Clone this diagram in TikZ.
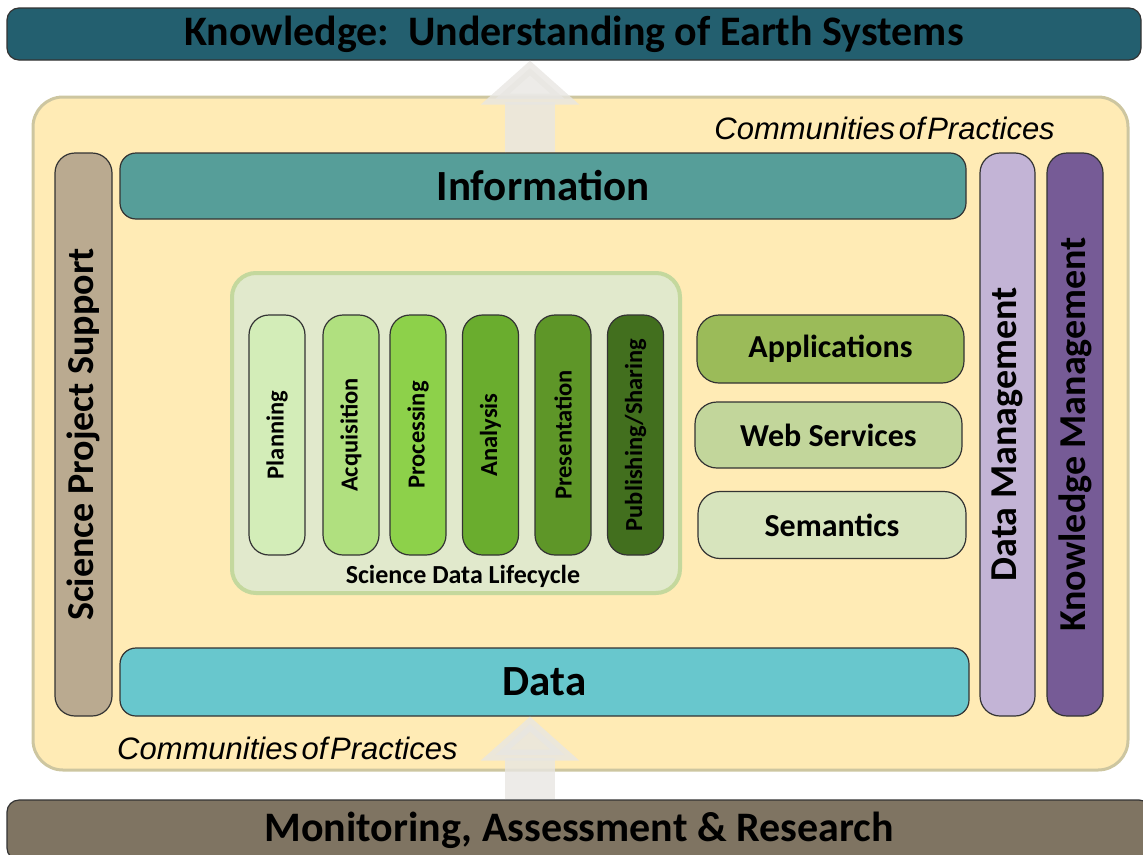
\documentclass[tikz,border=0pt]{standalone}
\usepackage{fontspec}
\setmainfont{Carlito}
\newfontfamily\copfont{Liberation Sans}
\usetikzlibrary{positioning}
\usetikzlibrary{arrows.meta}

\definecolor{knowteal}{RGB}{35,95,111}
\definecolor{monbrown}{RGB}{127,116,98}
\definecolor{copyellow}{RGB}{255,235,181}
\definecolor{copedge}{RGB}{205,198,160}
\definecolor{infoteal}{RGB}{86,158,153}
\definecolor{datacyan}{RGB}{104,199,205}
\definecolor{spstan}{RGB}{186,170,144}
\definecolor{dmlilac}{RGB}{195,180,214}
\definecolor{kmpurple}{RGB}{118,91,150}
\definecolor{sdlfill}{RGB}{225,233,204}
\definecolor{sdledge}{RGB}{196,216,157}
\definecolor{planA}{RGB}{211,237,184}
\definecolor{acqB}{RGB}{176,224,127}
\definecolor{procC}{RGB}{141,209,74}
\definecolor{anaD}{RGB}{106,173,46}
\definecolor{presE}{RGB}{94,150,40}
\definecolor{pubF}{RGB}{66,111,30}
\definecolor{appgreen}{RGB}{155,187,89}
\definecolor{webgreen}{RGB}{194,214,155}
\definecolor{semgreen}{RGB}{215,228,189}
\definecolor{arrowgrey}{RGB}{232,230,226}

\tikzset{
	box/.style={draw=black!80, line width=1.2pt, inner sep=0pt, align=center},
	band/.style={box, rounded corners=12pt, minimum height=52pt, font=\bfseries\fontsize{42}{44}\selectfont},
	layer/.style={box, rounded corners=16pt, font=\bfseries\fontsize{43}{46}\selectfont},
	pillar/.style={box, rounded corners=20pt, rotate=90, minimum width=563pt, font=\bfseries\fontsize{38}{40}\selectfont},
	phasebox/.style={box, rounded corners=20pt, rotate=90, minimum width=240pt, minimum height=56pt, font=\bfseries\fontsize{24.5}{26}\selectfont},
	service/.style={box, rounded corners=22pt, font=\bfseries\fontsize{32}{34}\selectfont},
	cop/.style={inner sep=0pt, font=\copfont\itshape\fontsize{31}{33}\selectfont},
	bigarrow/.style={draw=arrowgrey, line width=50pt, opacity=0.8, -{Triangle[length=44pt,width=96pt]}}
}

%one step of the lifecycle: name, centre x, colour, text
\newcommand{\phase}[4]{
	\node[phasebox, fill=#3] (#1) at (#2,435) {#4};
}

\begin{document}
\begin{tikzpicture}[x=1pt,y=-1pt]
	\useasboundingbox (0,0) rectangle (1143,854);
	\clip (0,0) rectangle (1143,854);

	%top and bottom bands
	\node[band, fill=knowteal, minimum width=1134pt] (know) at (574,34) {Knowledge:\ \ Understanding of Earth Systems};
	\node[band, fill=monbrown, minimum width=1144pt, minimum height=60pt] (monitor) at (579,830) {Monitoring, Assessment \& Research};

	%the big yellow frame
	\node[draw=copedge, fill=copyellow, line width=3pt, rounded corners=30pt, minimum width=1095pt, minimum height=673pt, inner sep=0pt] (frame) at (580.5,433.5) {};
	\node[cop, anchor=east] (coptop) at (1055,128) {Communities\hspace{.12em}of\hspace{.08em}Practices};
	\node[cop, anchor=west] (copbot) at (117,748) {Communities\hspace{.12em}of\hspace{.08em}Practices};

	%vertical pillars
	\node[pillar, fill=spstan, minimum height=57pt] (sps) at (83.5,434.5) {Science Project Support};
	\node[pillar, fill=dmlilac, minimum height=55pt] (dm) at (1007.5,434.5) {Data Management};
	\node[pillar, fill=kmpurple, minimum height=56pt] (km) at (1075,434.5) {Knowledge Management};

	%information and data layers
	\node[layer, fill=infoteal, minimum width=846pt, minimum height=66pt] (info) at (543,186) {Information};
	\node[layer, fill=datacyan, minimum width=849pt, minimum height=68pt] (data) at (544.5,682) {Data};

	%science data lifecycle
	\node[draw=sdledge, fill=sdlfill, line width=4pt, rounded corners=24pt, minimum width=448pt, minimum height=320pt, inner sep=0pt] (sdl) at (456,433) {};
	\phase{plan}{277}{planA}{Planning}
	\phase{acq}{351}{acqB}{Acquisition}
	\phase{proc}{418}{procC}{Processing}
	\phase{ana}{490.5}{anaD}{Analysis}
	\phase{pres}{563}{presE}{Presentation}
	\phase{pub}{635.5}{pubF}{Publishing/Sharing}
	\node[inner sep=0pt, font=\bfseries\fontsize{26}{28}\selectfont] (sdllabel) at (463,576) {Science Data Lifecycle};

	%services
	\node[service, fill=appgreen, minimum width=267pt, minimum height=68pt] (apps) at (830.5,349) {Applications};
	\node[service, fill=webgreen, minimum width=267pt, minimum height=66pt] (web) at (828.5,435) {Web Services};
	\node[service, fill=semgreen, minimum width=268pt, minimum height=67pt] (sem) at (832,525) {Semantics};

	%the two wide arrows
	\coordinate (axis) at (530,0);
	\draw[bigarrow] (info.north -| axis) -- (know.south -| axis);
	\draw[bigarrow] (monitor.north -| axis) -- (data.south -| axis);
\end{tikzpicture}
\end{document}
